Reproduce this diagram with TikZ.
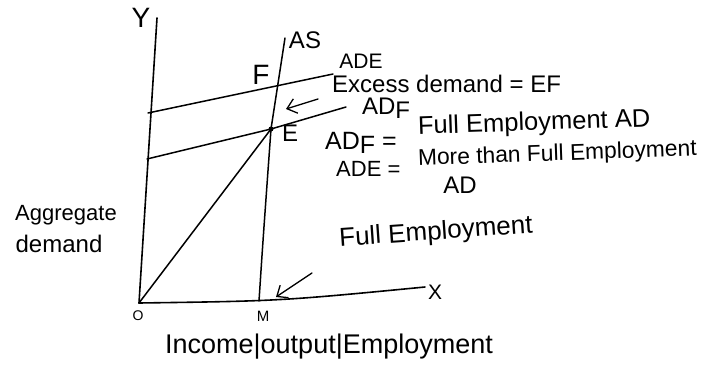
\documentclass[tikz,border=0pt]{standalone}
\usepackage{fontspec}
\setmainfont{Liberation Sans}
\usetikzlibrary{arrows.meta}
\begin{document}
\begin{tikzpicture}[x=1pt,y=-1pt,
  curve/.style={line width=1.5pt, line cap=round, line join=round},
  axis/.style={line width=1.6pt, line cap=round},
  pointer/.style={line width=1.3pt, line cap=round, -{Straight Barb[length=9pt,width=15pt,line width=1.3pt]}},
  lbl/.style={inner sep=0pt, font=\fontsize{#1}{#1}\selectfont},
  lbl/.default=24,
  tight/.style={text height=0.72em, text depth=0.02em},
]
\useasboundingbox (0,0) rectangle (703,367);
% coordinates
\coordinate (O) at (139,303);
\coordinate (Ytop) at (157,18);
\coordinate (Xend) at (425,287);
\coordinate (M) at (259,301);
\coordinate (E) at (271,129);
\coordinate (AStop) at (285,38);
\coordinate (ADEl) at (148,113);
\coordinate (ADEr) at (333,74);
\coordinate (ADFl) at (147,159);
\coordinate (ADFr) at (346,107);
\coordinate (a1s) at (318,99);
\coordinate (a1t) at (286,109);
\coordinate (a2s) at (312,273);
\coordinate (a2t) at (276,297);
% axes
\draw[axis] (O) -- (Ytop);
\draw[axis] (O) .. controls (280,301) .. (Xend);
% curves
\draw[curve] (M) .. controls (263,240) .. (E) -- (AStop);
\draw[curve] (ADEl) -- (ADEr);
\draw[curve] (ADFl) -- (E) -- (ADFr);
\draw[curve] (O) -- (E);
\fill (E) circle (2.5pt);
% arrows
\draw[pointer] (a1s) -- (a1t);
\draw[pointer] (a2s) -- (a2t);
% labels
\node[lbl=28, tight] (Ylab) at (141,24) {Y};
\node[lbl=21, tight] (Xlab) at (435,296) {X};
\node[lbl=14, tight] (Olab) at (138,317) {O};
\node[lbl=15, tight] (Mlab) at (263,318) {M};
\node[lbl=24, tight] (ASlab) at (305,45) {AS};
\node[lbl=28, tight] (Flab) at (261,81) {F};
\node[lbl=24, tight] (Elab) at (290,138) {E};
\node[lbl=21, tight] (ADElab) at (361,65) {ADE};
\node[lbl=24, tight] (ADFlab) at (386,111) {AD\raisebox{-0.3ex}{F}};
\node[lbl=24, tight, anchor=west] (excess) at (332,89) {Excess demand = EF};
\node[lbl=25, tight, anchor=west] (adfeq) at (325,146) {AD\raisebox{-0.3ex}{F} =};
\node[lbl=25.5, tight, anchor=west, rotate=2] (fullAD) at (418,131) {Full Employment AD};
\node[lbl=22, tight, anchor=west] (adeeq) at (336,173) {ADE =};
\node[lbl=22.8, tight, anchor=west, rotate=2] (moreAD) at (418,162) {More than Full Employment};
\node[lbl=24, tight] (AD2) at (460,190) {AD};
\node[lbl=26, rotate=4] (fullemp) at (436,233) {Full Employment};
\node[lbl=22] (agg) at (66,215) {Aggregate};
\node[lbl=24] (dem) at (59,244) {demand};
\node[lbl=27] (income) at (329,347) {Income|output|Employment};
\end{tikzpicture}
\end{document}
